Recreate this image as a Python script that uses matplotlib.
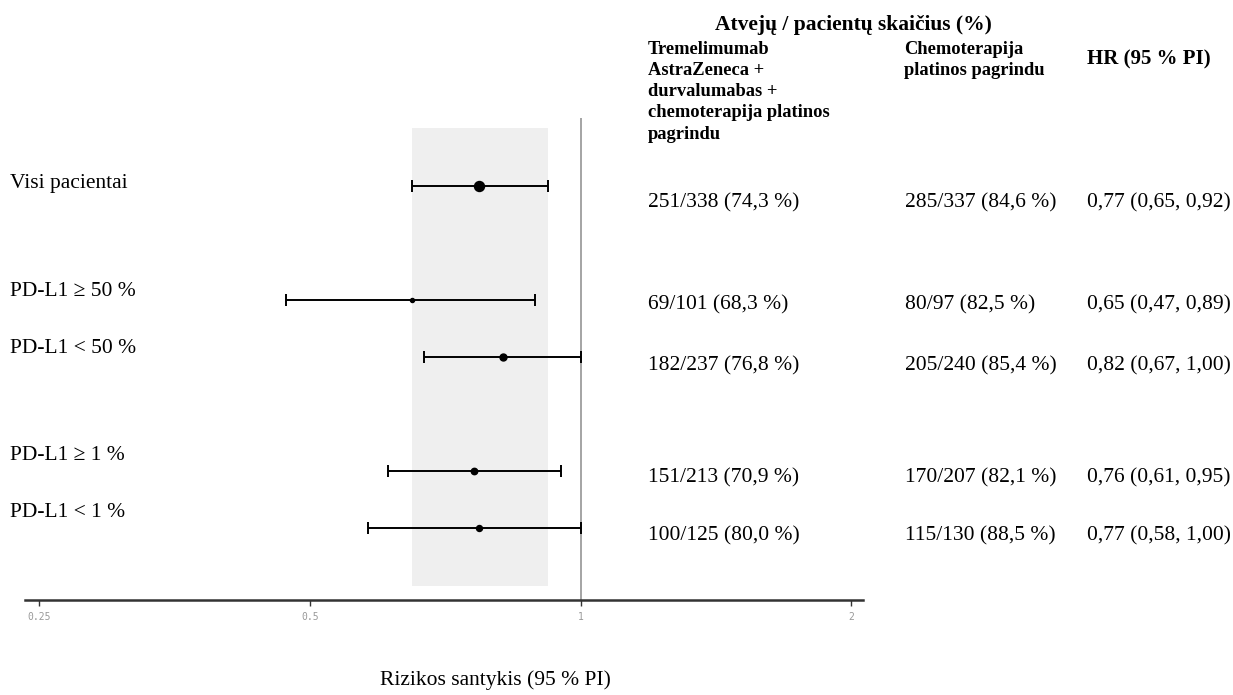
import matplotlib
matplotlib.use("Agg")
import matplotlib.pyplot as plt

# duomenys
groups = ["Visi pacientai", "PD-L1 \u2265 50 %", "PD-L1 < 50 %", "PD-L1 \u2265 1 %", "PD-L1 < 1 %"]
hr = [0.77, 0.65, 0.82, 0.76, 0.77]
ci_low = [0.65, 0.47, 0.67, 0.61, 0.58]
ci_high = [0.92, 0.89, 1.00, 0.95, 1.00]
col_treat = ["251/338 (74,3 %)", "69/101 (68,3 %)", "182/237 (76,8 %)", "151/213 (70,9 %)", "100/125 (80,0 %)"]
col_chemo = ["285/337 (84,6 %)", "80/97 (82,5 %)", "205/240 (85,4 %)", "170/207 (82,1 %)", "115/130 (88,5 %)"]
col_hr = ["0,77 (0,65, 0,92)", "0,65 (0,47, 0,89)", "0,82 (0,67, 1,00)", "0,76 (0,61, 0,95)", "0,77 (0,58, 1,00)"]
xticks = [0.25, 0.5, 1, 2]

# isdestymas (pikseliai)
W, H = 1233, 695
row_pos = [0, 2, 3, 5, 6]
label_dy = [-0.05, -0.15, -0.15, -0.28, -0.28]
value_dy = [0.30, 0.09, 0.16, 0.12, 0.14]
sizes = [7.2, 2.9, 5.0, 4.6, 4.3]

serif = "Liberation Serif"

fig = plt.figure(figsize=(W / 100, H / 100), dpi=100)
ax = fig.add_axes([25 / W, 1 - 600 / H, (863 - 25) / W, (600 - 118) / H])
ax.set_xscale("log", base=2)
ax.set_xlim(0.241, 2.06)
ax.set_ylim(7.263, -1.193)

# fonas - bendro HR PI
ax.fill_betweenx([-1.02, 7.02], ci_low[0], ci_high[0], color="#efefef", lw=0, zorder=0)
ax.axvline(1, color="#8c8c8c", lw=1.1, zorder=1)

for i in range(len(groups)):
    y = row_pos[i]
    ax.errorbar(hr[i], y, xerr=[[hr[i] - ci_low[i]], [ci_high[i] - hr[i]]],
                fmt="o", color="black", ms=sizes[i], elinewidth=1.4,
                capsize=4, capthick=1.4, zorder=3)

for s in ["top", "right", "left"]:
    ax.spines[s].set_visible(False)
ax.spines["bottom"].set_color("#333333")
ax.spines["bottom"].set_linewidth(1.8)
ax.set_yticks([])
ax.set_xticks(xticks)
ax.set_xticklabels([str(t) for t in xticks])
ax.minorticks_off()
ax.tick_params(axis="x", length=4, width=1, color="#333333", labelsize=7,
               labelcolor="#999999", pad=5)
for lab in ax.get_xticklabels():
    lab.set_family("DejaVu Sans Mono")


def px(x, y):
    return x / W, 1 - y / H


def row_px(i, dy):
    return 186 + (row_pos[i] + dy) * 57


for i in range(len(groups)):
    fig.text(*px(10, row_px(i, label_dy[i])), groups[i], family=serif, fontsize=15.5,
             va="center", ha="left")
    yv = row_px(i, value_dy[i])
    fig.text(*px(648, yv), col_treat[i], family=serif, fontsize=15.5, va="center")
    fig.text(*px(905, yv), col_chemo[i], family=serif, fontsize=15.5, va="center")
    fig.text(*px(1087, yv), col_hr[i], family=serif, fontsize=15.5, va="center")

# antrastes
fig.text(*px(853, 25), "Atvej\u0173 / pacient\u0173 skai\u010dius (%)", family=serif,
         fontsize=15.5, weight="bold", ha="center", va="center")
fig.text(*px(648, 41), "Tremelimumab\nAstraZeneca +\ndurvalumabas +\nchemoterapija platinos\npagrindu",
         family=serif, fontsize=13.3, weight="bold", ha="left", va="top", linespacing=1.32)
fig.text(*px(904, 41), "Chemoterapija\nplatinos pagrindu", family=serif, fontsize=13.3,
         weight="bold", ha="left", va="top", linespacing=1.32)
fig.text(*px(1087, 59), "HR (95 % PI)", family=serif, fontsize=15, weight="bold",
         ha="left", va="center")

fig.text(*px(495, 680), "Rizikos santykis (95 % PI)", family=serif, fontsize=15.5,
         ha="center", va="center")

fig.savefig("out.png", dpi=100, facecolor="white")
